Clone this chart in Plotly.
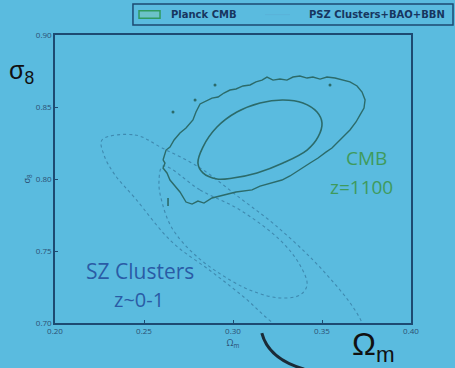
import plotly.graph_objects as go

# ---- data (Omega_m, sigma_8) ----
cmb68_x = [0.2803, 0.2831, 0.2910, 0.3022, 0.3152, 0.3281, 0.3393, 0.3472, 0.3500,
           0.3478, 0.3416, 0.3281, 0.3135, 0.3000, 0.2910, 0.2831, 0.2803]
cmb68_y = [0.8111, 0.8222, 0.8361, 0.8465, 0.8528, 0.8549, 0.8528, 0.8465, 0.8389,
           0.8292, 0.8201, 0.8111, 0.8042, 0.8007, 0.8000, 0.8042, 0.8111]

cmb95_x = [0.2607, 0.2624, 0.2646, 0.2669, 0.2702, 0.2736, 0.2775, 0.2792, 0.2815, 0.2854,
           0.2882, 0.2916, 0.2949, 0.2983, 0.3017, 0.3056, 0.3096, 0.3129, 0.3163, 0.3191,
           0.3225, 0.3264, 0.3303, 0.3337, 0.3376, 0.3416, 0.3449, 0.3489, 0.3528, 0.3573,
           0.3612, 0.3657, 0.3697, 0.3725, 0.3742, 0.3736, 0.3713, 0.3691, 0.3657, 0.3624,
           0.3590, 0.3556, 0.3522, 0.3478, 0.3433, 0.3388, 0.3354, 0.3320, 0.3275, 0.3230,
           0.3197, 0.3152, 0.3107, 0.3062, 0.3017, 0.2972, 0.2927, 0.2882, 0.2837, 0.2803,
           0.2770, 0.2736, 0.2702, 0.2674, 0.2646, 0.2629, 0.2607, 0.2618, 0.2607]
cmb95_y = [0.8132, 0.8201, 0.8222, 0.8271, 0.8319, 0.8354, 0.8410, 0.8465, 0.8521, 0.8542,
           0.8562, 0.8569, 0.8597, 0.8618, 0.8625, 0.8646, 0.8653, 0.8674, 0.8687, 0.8708,
           0.8687, 0.8694, 0.8687, 0.8708, 0.8715, 0.8701, 0.8708, 0.8694, 0.8708, 0.8701,
           0.8687, 0.8674, 0.8646, 0.8604, 0.8549, 0.8493, 0.8444, 0.8396, 0.8340, 0.8299,
           0.8257, 0.8215, 0.8187, 0.8146, 0.8111, 0.8076, 0.8049, 0.8021, 0.7993, 0.7979,
           0.7965, 0.7951, 0.7924, 0.7917, 0.7910, 0.7896, 0.7882, 0.7868, 0.7833, 0.7847,
           0.7826, 0.7840, 0.7910, 0.7951, 0.7993, 0.8042, 0.8076, 0.8111, 0.8132]

cmb_islands_x = [0.2663, 0.2787, 0.2899, 0.3545]
cmb_islands_y = [0.8465, 0.8549, 0.8653, 0.8653]
cmb_tick_x = [0.2635, 0.2635]
cmb_tick_y = [0.7868, 0.7812]

sz95_x = [0.2264, 0.2449, 0.2601, 0.2815, 0.3039, 0.3236, 0.3449, 0.3601, 0.3674, 0.3725,
          0.3742, 0.3657, 0.3433, 0.3225, 0.3067, 0.2882, 0.2657, 0.2449, 0.2337, 0.2275, 0.2264]
sz95_y = [0.8271, 0.8306, 0.8216, 0.8077, 0.7868, 0.7681, 0.7438, 0.7229, 0.7111, 0.7000,
          0.6917, 0.6813, 0.6847, 0.7000, 0.7174, 0.7354, 0.7563, 0.7868, 0.8028, 0.8167, 0.8271]

sz68_x = [0.2607, 0.2815, 0.3039, 0.3264, 0.3376, 0.3416, 0.3376, 0.3264, 0.3124, 0.2983,
          0.2787, 0.2657, 0.2601, 0.2584, 0.2607]
sz68_y = [0.8090, 0.7924, 0.7785, 0.7576, 0.7403, 0.7264, 0.7194, 0.7174, 0.7215, 0.7299,
          0.7472, 0.7660, 0.7840, 0.7979, 0.8090]

x_ticks = [0.20, 0.25, 0.30, 0.35, 0.40]
y_ticks = [0.70, 0.75, 0.80, 0.85, 0.90]
legend_labels = ["Planck CMB", "PSZ Clusters+BAO+BBN"]

BG = "#5abbdf"
CMB_LINE = "#2c6b6a"
SZ_LINE = "rgba(35,90,130,0.5)"
FRAME = "#1d4a72"
LEG_TXT = "#17365f"

fig = go.Figure()

fig.add_trace(go.Scatter(x=sz95_x, y=sz95_y, mode="lines", line=dict(color=SZ_LINE, width=1.1, dash="dot", shape="spline", smoothing=1.0),
                         showlegend=False, hoverinfo="skip"))
fig.add_trace(go.Scatter(x=sz68_x, y=sz68_y, mode="lines", line=dict(color=SZ_LINE, width=1.1, dash="dot", shape="spline", smoothing=1.0),
                         showlegend=False, hoverinfo="skip"))
fig.add_trace(go.Scatter(x=cmb95_x, y=cmb95_y, mode="lines",
                         line=dict(color=CMB_LINE, width=1.4), showlegend=False, hoverinfo="skip"))
fig.add_trace(go.Scatter(x=cmb68_x, y=cmb68_y, mode="lines", line=dict(color=CMB_LINE, width=1.6, shape="spline", smoothing=1.0),
                         showlegend=False, hoverinfo="skip"))
fig.add_trace(go.Scatter(x=cmb_islands_x, y=cmb_islands_y, mode="markers", marker=dict(color=CMB_LINE, size=3),
                         showlegend=False, hoverinfo="skip"))
fig.add_trace(go.Scatter(x=cmb_tick_x, y=cmb_tick_y, mode="lines", line=dict(color=CMB_LINE, width=1.6),
                         showlegend=False, hoverinfo="skip"))


def ann(text, x, y, size, color, family="Open Sans, sans-serif", weight="normal", **kw):
    d = dict(text=text, x=x, y=y, xref="paper", yref="paper", showarrow=False,
             xanchor="center", yanchor="middle",
             font=dict(size=size, color=color, family=family, weight=weight))
    d.update(kw)
    return d


fig.update_layout(
    width=455, height=368,
    margin=dict(l=55, r=44, t=35, b=45, autoexpand=False),
    paper_bgcolor=BG, plot_bgcolor=BG,
    font=dict(family="Open Sans, sans-serif"),
    showlegend=False,
    xaxis=dict(range=[0.20, 0.40], tickvals=x_ticks, ticktext=[f"{v:.2f}" for v in x_ticks],
               showgrid=False, zeroline=False, showline=True, linecolor=FRAME, linewidth=1.5,
               mirror=True, ticks="inside", ticklen=3, tickcolor=FRAME,
               tickfont=dict(size=8, color="#2c4f73"),
               title=dict(text="Ω<sub>m</sub>", font=dict(size=9, color="#2c4f73"), standoff=4)),
    yaxis=dict(range=[0.70, 0.90], tickvals=y_ticks, ticktext=[f"{v:.2f}" for v in y_ticks],
               showgrid=False, zeroline=False, showline=True, linecolor=FRAME, linewidth=1.5,
               mirror=True, ticks="inside", ticklen=3, tickcolor=FRAME,
               tickfont=dict(size=8, color="#2c4f73"),
               title=dict(text="σ<sub>8</sub>", font=dict(size=9, color="#2c4f73"), standoff=4)),
    shapes=[
        # legend box
        dict(type="rect", xref="paper", yref="paper", x0=0.219, x1=1.118, y0=1.035, y1=1.108,
             line=dict(color=FRAME, width=1.5), fillcolor=BG, layer="above"),
        # legend symbol Planck CMB
        dict(type="rect", xref="paper", yref="paper", x0=0.236, x1=0.295, y0=1.058, y1=1.084,
             line=dict(color="#2f9a62", width=1.5), fillcolor="rgba(130,205,175,0.45)", layer="above"),
        # legend symbol PSZ clusters (faint)
        dict(type="line", xref="paper", yref="paper", x0=0.59, x1=0.66, y0=1.071, y1=1.071,
             line=dict(color="rgba(90,175,215,0.7)", width=1), layer="above"),
        # pointer streak below the axis
        dict(type="path", xref="paper", yref="paper",
             path="M 0.581,-0.035 Q 0.60,-0.125 0.70,-0.16",
             line=dict(color="#1b2b38", width=3)),
    ],
    annotations=[
        ann(legend_labels[0], 0.320, 1.071, 10, LEG_TXT, family="DejaVu Sans, sans-serif", weight="bold", xanchor="left"),
        ann(legend_labels[1], 1.101, 1.071, 10, LEG_TXT, family="DejaVu Sans, sans-serif", weight="bold", xanchor="right"),
        ann("σ<sub>8</sub>", -0.093, 0.872, 25, "#111111", family="Liberation Sans, sans-serif"),
        ann("Ω<sub>m</sub>", 0.895, -0.08, 32, "#111111", family="Liberation Sans, sans-serif"),
        ann("CMB", 0.876, 0.573, 19, "#3f9a5c"),
        ann("z=1100", 0.862, 0.472, 19, "#3f9a5c"),
        ann("SZ Clusters", 0.239, 0.181, 21, "#2a5ba6"),
        ann("z~0-1", 0.236, 0.080, 20, "#2a5ba6"),
    ],
)

fig.write_html("out.html")
